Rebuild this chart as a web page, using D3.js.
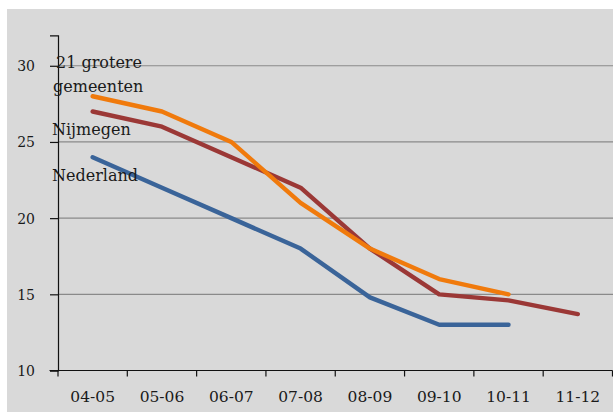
<!DOCTYPE html>
<html>
<head>
<meta charset="utf-8">
<script src="https://cdn.jsdelivr.net/npm/d3@7/dist/d3.min.js"></script>
<style>
html,body{margin:0;padding:0;background:#fff;}
svg{display:block;}
text{font-family:"DejaVu Serif",serif;fill:#1a1a1a;}
</style>
</head>
<body>
<svg id="chart" width="613" height="414"></svg>
<script>
const categories = ["04-05","05-06","06-07","07-08","08-09","09-10","10-11","11-12"];
const grotereGemeenten = [28, 27, 25, 21, 18, 16, 15, null];
const nijmegen = [27, 26, 24, 22, 18, 15, 14.6, 13.7];
const nederland = [24, 22, 20, 18, 14.8, 13, 13, null];
const yTicks = [10, 15, 20, 25, 30];
const seriesNames = [["21 grotere", "gemeenten"], ["Nijmegen"], ["Nederland"]];
const seriesColors = ["#f07a0c", "#9b3836", "#3a6499"];

const svg = d3.select("#chart");
svg.append("rect").attr("x",7).attr("y",9).attr("width",606).attr("height",403).attr("fill","#d9d9d9");

const x = d3.scaleBand().domain(categories).range([58, 612.5]).paddingInner(0).paddingOuter(0);
const y = d3.scaleLinear().domain([10, 32]).range([370.5, 35.3]);

// gridlines
svg.append("g").selectAll("line").data(yTicks.filter(t => t > 10)).join("line")
  .attr("x1", 58).attr("x2", 613).attr("y1", d => y(d)).attr("y2", d => y(d))
  .attr("stroke", "#8a8a8a").attr("stroke-width", 1.2);

// y axis
const yAxis = svg.append("g").attr("transform", "translate(58,0)")
  .call(d3.axisLeft(y).tickValues(yTicks).tickSize(8).tickPadding(15));
yAxis.select(".domain").attr("stroke","#111").attr("stroke-width",1.2);
yAxis.selectAll(".tick line").attr("stroke","#111").attr("stroke-width",1.2);
yAxis.selectAll(".tick text").style("font-size","14px").attr("fill","#1a1a1a").attr("dy","0.35em");

// x axis
const xg = svg.append("g").attr("transform", `translate(0,${y(10)})`);
xg.append("line").attr("x1", 49.5).attr("x2", 612.5).attr("y1",0).attr("y2",0).attr("stroke","#111").attr("stroke-width",1.2);
const bounds = categories.map(c => x(c)).concat([x.range()[1]]);
xg.selectAll("line.tk").data(bounds).join("line").attr("class","tk")
  .attr("x1", d => d).attr("x2", d => d).attr("y1", 0).attr("y2", 6)
  .attr("stroke","#111").attr("stroke-width",1.2);
xg.selectAll("text").data(categories).join("text")
  .attr("x", d => x(d) + x.bandwidth()/2).attr("y", 31)
  .attr("text-anchor","middle").style("font-size","15.5px").text(d => d);

// lines
const allSeries = [grotereGemeenten, nijmegen, nederland];
const line = d3.line()
  .defined(d => d.v != null)
  .x(d => x(d.c) + x.bandwidth()/2)
  .y(d => y(d.v));
// draw order: blue, red, orange
[2, 1, 0].forEach(i => {
  svg.append("path")
    .datum(categories.map((c, k) => ({c: c, v: allSeries[i][k]})))
    .attr("fill","none").attr("stroke", seriesColors[i]).attr("stroke-width", 4.4)
    .attr("stroke-linejoin","round").attr("stroke-linecap","round")
    .attr("d", line);
});

// labels
const labelPos = [[[56, 68], [53, 92]], [[52, 135]], [[52, 181]]];
seriesNames.forEach((lines, i) => {
  lines.forEach((t, j) => {
    svg.append("text").attr("x", labelPos[i][j][0]).attr("y", labelPos[i][j][1])
      .style("font-size","16px").text(t);
  });
});
</script>
</body>
</html>
